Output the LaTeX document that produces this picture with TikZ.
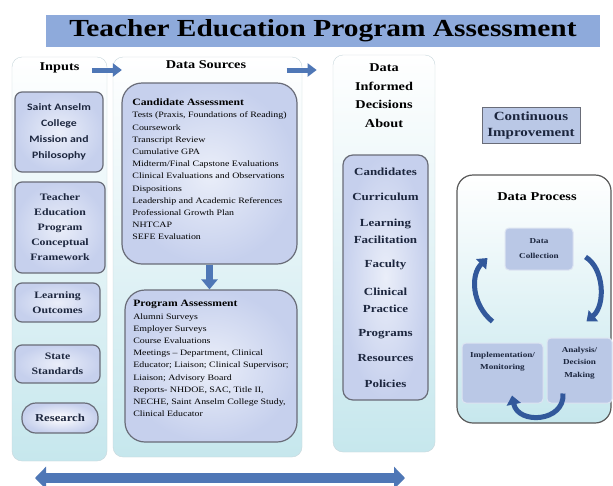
\documentclass[tikz,border=0pt]{standalone}
\usepackage{fontspec}
\setmainfont{Liberation Serif}[FakeStretch=1.2]
\newfontfamily\calfont{Carlito}[FakeStretch=1.2]
\usetikzlibrary{arrows.meta}
\definecolor{titleblue}{RGB}{142,170,219}
\definecolor{panelcyan}{RGB}{198,231,237}
\definecolor{panelline}{RGB}{200,215,220}
\definecolor{boxin}{RGB}{234,238,249}
\definecolor{boxout}{RGB}{198,208,237}
\definecolor{boxline}{RGB}{105,108,120}
\definecolor{procfill}{RGB}{186,200,230}
\definecolor{arrowblue}{RGB}{79,119,182}
\definecolor{cycleblue}{RGB}{50,88,155}
\definecolor{textnavy}{RGB}{28,38,62}
\newcommand\fsz[2]{\fontsize{#1}{#2}\selectfont}
\tikzset{
  panel/.style={draw=panelline, rounded corners=10pt, top color=white, bottom color=panelcyan},
  box/.style={draw=boxline, line width=1.2pt, rounded corners=7pt, inner color=boxin, outer color=boxout, align=center, text=textnavy},
  heading/.style={font=\bfseries\fsz{11.9}{18.5}, align=center},
  inbox/.style={box, font=\bfseries\fsz{9.8}{15}},
  srcbox/.style={box, rounded corners=20pt, align=left, text=black, font=\fsz{8.25}{12.2}},
  topic/.style={font=\bfseries\fsz{10.8}{17}, align=center, text=textnavy},
  procbox/.style={fill=procfill, draw=procfill!50!white, line width=1pt, rounded corners=4pt, align=center, text=textnavy, font=\bfseries\fsz{7.6}{12.5}},
  flow/.style={arrowblue, line width=5pt, -{Triangle[length=9pt,width=13pt]}},
  loopar/.style={cycleblue, line width=5pt, -{Triangle[length=9pt,width=14pt]}}
}
\begin{document}
\begin{tikzpicture}[x=1pt,y=-1pt]
\fill[white] (0,0) rectangle (613,485);
\useasboundingbox (0,0) rectangle (613,485);
\node[fill=titleblue, minimum width=554pt, minimum height=32pt, font=\bfseries\fsz{24.5}{28}] (title) at (323,31) {Teacher Education Program Assessment};

\node[panel, minimum width=95pt, minimum height=404pt] (inpanel) at (59.5,259) {};
\node[panel, minimum width=189pt, minimum height=400pt] (srcpanel) at (207.5,257) {};
\node[panel, minimum width=102pt, minimum height=397pt] (decpanel) at (384,253.5) {};

\node[heading] (inputs) at (59.5,68) {Inputs};
\node[heading] (sources) at (206,65) {Data Sources};
\node[heading] (about) at (384,95.5) {Data\\Informed\\Decisions\\About};
\draw[flow] ([xshift=9pt,yshift=-2pt]inputs.east) -- ++(30,0);
\draw[flow] ([xshift=37pt,yshift=-5pt]sources.east) -- ++(30,0);

\node[inbox, minimum width=88pt, minimum height=80pt, font=\calfont\bfseries\fsz{9.8}{16}] (anselm) at (59,132) {Saint Anselm\\College\\Mission and\\Philosophy};
\node[inbox, minimum width=90pt, minimum height=91pt] (framework) at (60,227.5) {Teacher\\Education\\Program\\Conceptual\\Framework};
\node[inbox, minimum width=85pt, minimum height=39pt] (outcomes) at (57.5,302.5) {Learning\\Outcomes};
\node[inbox, minimum width=85pt, minimum height=38pt] (standards) at (57.5,364) {State\\Standards};
\node[inbox, minimum width=76pt, minimum height=30pt, rounded corners=14pt, inner color=white, font=\bfseries\fsz{10.6}{13}] (research) at (60,418) {Research};

\node[srcbox, minimum width=175pt, minimum height=181pt, text depth=8pt] (cand) at (209.5,173.5) {{\fsz{9.7}{12.2}\bfseries Candidate Assessment}\\
  Tests (Praxis, Foundations of Reading)\\ Coursework\\ Transcript Review\\ Cumulative GPA\\
  Midterm/Final Capstone Evaluations\\ Clinical Evaluations and Observations\\ Dispositions\\
  Leadership and Academic References\\ Professional Growth Plan\\ NHTCAP\\ SEFE Evaluation};
\node[srcbox, minimum width=172pt, minimum height=152pt, text depth=15pt] (prog) at (211,366) {{\fsz{9.7}{12.2}\bfseries Program Assessment}\\
  Alumni Surveys\\ Employer Surveys\\ Course Evaluations\\ Meetings – Department, Clinical\\
  Educator; Liaison; Clinical Supervisor;\\ Liaison; Advisory Board\\ Reports- NHDOE, SAC, Title II,\\
  NECHE, Saint Anselm College Study,\\ Clinical Educator};
\draw[arrowblue, line width=7pt, -{Triangle[length=10pt,width=16pt]}] (cand.south) -- (cand.south |- prog.north);

\node[box, minimum width=85pt, minimum height=245pt, rounded corners=10pt] (decbox) at (385.5,277.5) {};
\foreach \y/\txt in {172/Candidates,197/Curriculum,231/{Learning\\Facilitation},265/Faculty,300/{Clinical\\Practice},334/Programs,358/Resources,384/Policies}
  \node[topic] (d\y) at (385.5,\y) {\txt};

\node[draw=boxline, fill=procfill, minimum width=98pt, minimum height=36pt, font=\bfseries\fsz{12.5}{16}, align=center, text=textnavy] (improve) at (531,125) {Continuous\\Improvement};
\node[draw=black!65, line width=1.2pt, rounded corners=16pt, top color=white, bottom color=panelcyan, minimum width=154pt, minimum height=248pt] (procpanel) at (534,299) {};
\node[heading, font=\bfseries\fsz{12}{14}] (process) at (537,197) {Data Process};
\node[procbox, minimum width=68pt, minimum height=42pt, font=\bfseries\fsz{7.6}{15}] (collect) at (539,249) {Data\\Collection};
\node[procbox, minimum width=81pt, minimum height=60pt, text depth=24pt] (implement) at (502.5,373) {Implementation/\\Monitoring};
\node[procbox, minimum width=65pt, minimum height=65pt, text depth=17pt] (analysis) at (579.5,370.5) {Analysis/\\Decision\\Making};
\draw[loopar] ([shift={(-10,-21)}]implement.north) .. controls (472,305) and (470,275) .. ([shift={(-17,9)}]collect.west);
\draw[loopar] ([shift={(12,8)}]collect.east) .. controls (604,268) and (606,305) .. ([shift={(7,-16)}]analysis.north);
\draw[loopar] ([shift={(-16.5,-10)}]analysis.south) .. controls (565,422) and (518,425) .. ([shift={(9.5,-8)}]implement.south);

\coordinate (backL) at (35,478);
\coordinate (backR) at (405,478);
\draw[arrowblue, line width=10pt, {Triangle[length=11pt,width=22pt]}-{Triangle[length=11pt,width=22pt]}] (backL) -- (backR);
\end{tikzpicture}
\end{document}
